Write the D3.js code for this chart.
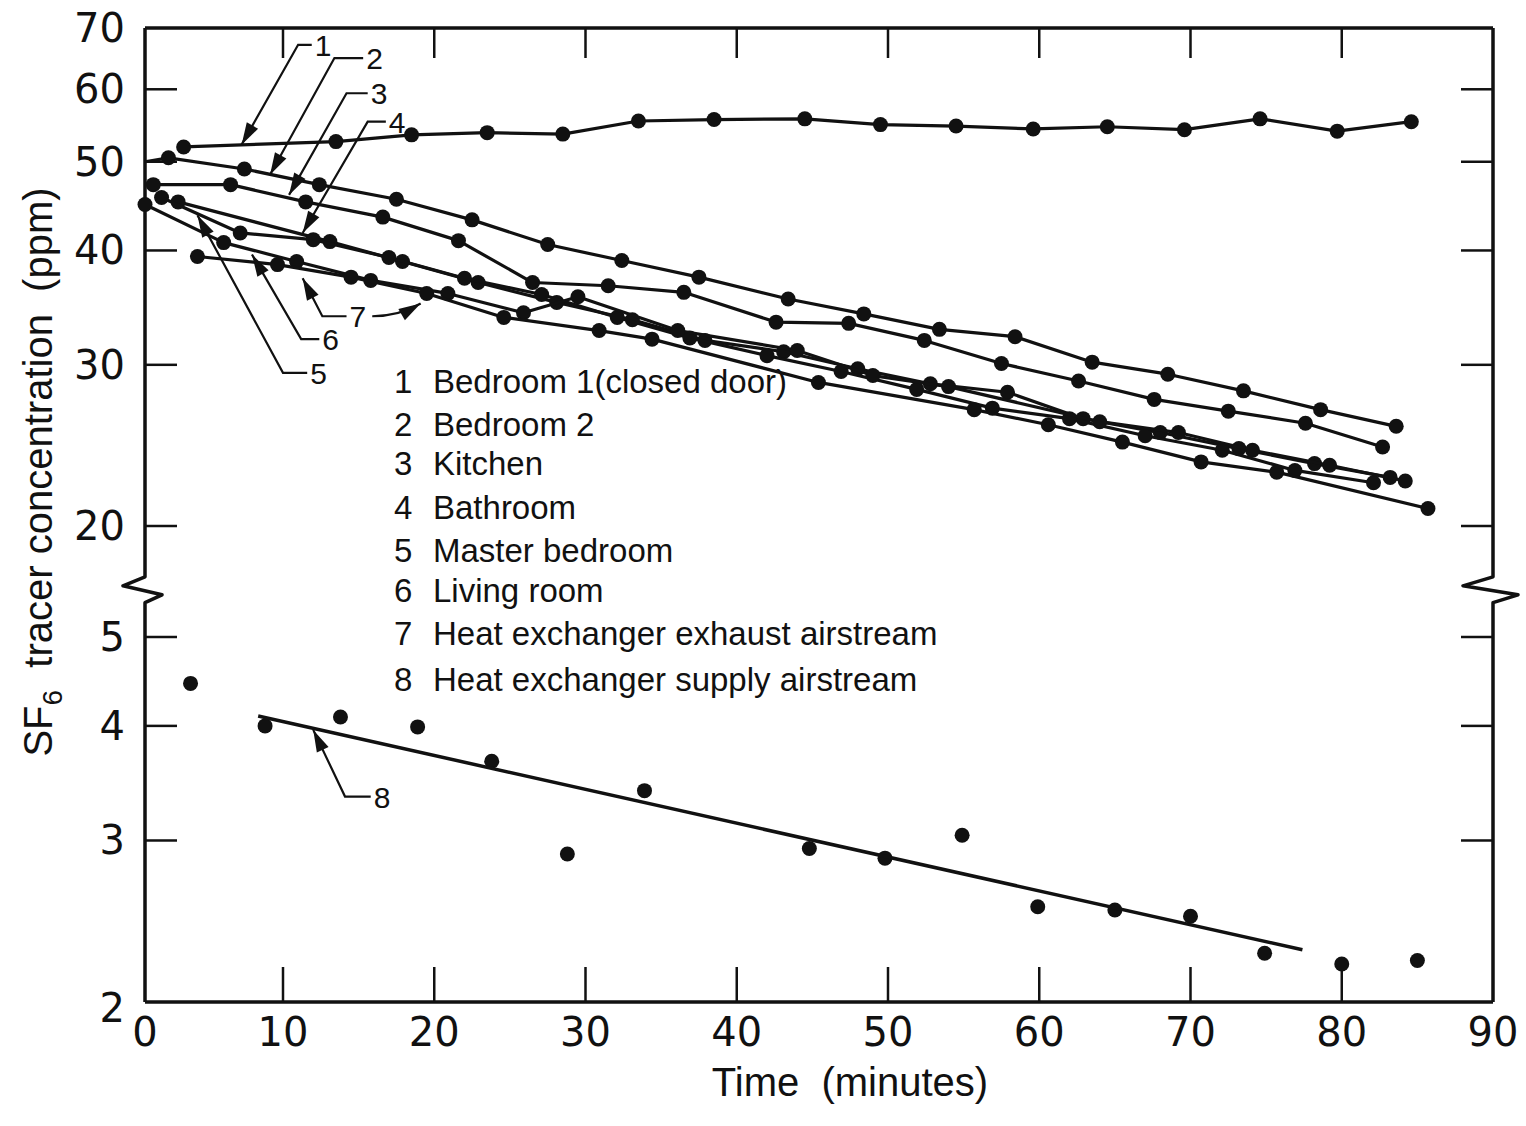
<!DOCTYPE html>
<html><head><meta charset="utf-8">
<script src="https://cdn.jsdelivr.net/npm/d3@7"></script>
<style>
body{margin:0;background:#fff}
svg{display:block}
text{fill:#111}
</style>
</head><body>
<svg id="c" width="1526" height="1126"></svg>
<script>
// ---------------- data ----------------
const xTicks = [0,10,20,30,40,50,60,70,80,90];
const yTicksUpper = [20,30,40,50,60,70];
const yTicksLower = [2,3,4,5];
const legendNumbers = ["1","2","3","4","5","6","7","8"];
const legendNames = ["Bedroom 1(closed door)","Bedroom 2","Kitchen","Bathroom","Master bedroom","Living room","Heat exchanger exhaust airstream","Heat exchanger supply airstream"];

const s1Time  = [2.8,13.5,18.5,23.5,28.5,33.5,38.5,44.5,49.5,54.5,59.6,64.5,69.6,74.6,79.7,84.6];
const s1Value = [51.9,52.6,53.5,53.8,53.6,55.4,55.6,55.7,54.9,54.7,54.3,54.6,54.2,55.7,54.0,55.3];

const s2Time  = [0,1.7,7.2,12.4,17.5,22.5,27.5,32.4,37.5,43.4,48.4,53.4,58.4,63.5,68.5,73.5,78.6,83.6];
const s2Value = [50.0,50.5,49.1,47.2,45.5,43.2,40.6,39.0,37.4,35.4,34.1,32.8,32.2,30.2,29.3,28.1,26.8,25.7];

const s3Time  = [0.6,6.2,11.5,16.6,21.6,26.5,31.5,36.5,42.6,47.4,52.4,57.5,62.6,67.6,72.5,77.6,82.7];
const s3Value = [47.2,47.2,45.2,43.5,41.0,36.9,36.6,36.0,33.4,33.3,31.9,30.1,28.8,27.5,26.7,25.9,24.4];

const s4Time  = [2.4,13.1,17.9,22.9,28.1,33.1,37.9,43.1,48.0,52.8,57.9,62.9,68.0,73.2,78.2,83.2];
const s4Value = [45.2,40.9,38.9,36.9,35.1,33.6,31.9,31.0,29.7,28.6,28.0,26.2,25.3,24.3,23.4,22.6];

const s5Time  = [1.2,6.9,12.0,17.0,22.0,27.1,32.1,36.9,42.0,46.9,51.9,56.9,62.0,67.0,72.1,76.9,82.1];
const s5Value = [45.7,41.8,41.1,39.3,37.3,35.8,33.8,32.1,30.7,29.5,28.2,26.9,26.2,25.1,24.2,23.0,22.3];

const s6Time  = [0,5.7,10.9,15.8,20.9,25.9,29.5,36.1,44.0,49.0,54.0,64.0,69.2,74.1,79.2,84.2];
const s6Value = [44.9,40.8,38.9,37.1,35.9,34.2,35.6,32.7,31.1,29.2,28.4,26.0,25.3,24.2,23.3,22.4];

const s7Time  = [3.8,9.6,14.5,19.5,24.6,30.9,34.4,45.4,55.7,60.6,65.5,70.7,75.7,85.7];
const s7Value = [39.4,38.6,37.4,35.9,33.8,32.7,32.0,28.7,26.8,25.8,24.7,23.5,22.9,20.9];

const s8Time  = [3.3,8.7,13.8,18.9,23.8,28.8,33.9,44.8,49.8,54.9,59.9,65.0,70.0,74.9,80.0,85.0];
const s8Value = [4.45,4.0,4.09,3.99,3.66,2.90,3.40,2.94,2.87,3.04,2.54,2.52,2.48,2.26,2.20,2.22];

const s8FitTime  = [8.2,77.4];
const s8FitValue = [4.10,2.28];

// axis break values (upper / lower panel)
const breakUpper = 17.6;
const breakLower = 5.45;

// ---------------- scales ----------------
const svg = d3.select("#c");
const x  = d3.scaleLinear().domain([0,10,90]).range([145,283,1493]);
const yU = d3.scaleLog().domain([20,70]).range([526,28]);
const yL = d3.scaleLog().domain([2,5]).range([1002,637]);

const upperSeries = [
  {t:s1Time,v:s1Value,skipFirstDot:false},
  {t:s2Time,v:s2Value,skipFirstDot:true},
  {t:s3Time,v:s3Value,skipFirstDot:false},
  {t:s4Time,v:s4Value,skipFirstDot:false},
  {t:s5Time,v:s5Value,skipFirstDot:false},
  {t:s6Time,v:s6Value,skipFirstDot:false},
  {t:s7Time,v:s7Value,skipFirstDot:false}
];

const ink = "#111";
const x0 = x(0), x90 = x(90);
const yTop = yU(70), yBot = yL(2);

// ---------------- frame ----------------
const g = svg.append("g");
function axisPath(ax, left){
  const ya = yU(breakUpper), yb = yL(breakLower);
  const out = left ? -22 : -30, inn = left ? 17 : 25;
  return `M${ax},${yTop} L${ax},${ya} L${ax+out},${ya+9} L${ax+inn},${ya+18} L${ax},${yb} L${ax},${yBot}`;
}
g.append("path").attr("d",axisPath(x0,true)).attr("fill","none").attr("stroke",ink).attr("stroke-width",3.5).attr("stroke-linejoin","round");
g.append("path").attr("d",axisPath(x90,false)).attr("fill","none").attr("stroke",ink).attr("stroke-width",3.5).attr("stroke-linejoin","round");
g.append("line").attr("x1",x0).attr("x2",x90).attr("y1",yTop).attr("y2",yTop).attr("stroke",ink).attr("stroke-width",3.5);
g.append("line").attr("x1",x0).attr("x2",x90).attr("y1",yBot).attr("y2",yBot).attr("stroke",ink).attr("stroke-width",3.5);

// x ticks (inside, top and bottom)
const innerX = xTicks.filter(d=>d>0 && d<90);
g.selectAll(".xtb").data(innerX).join("line")
  .attr("x1",d=>x(d)).attr("x2",d=>x(d)).attr("y1",yBot).attr("y2",yBot-35)
  .attr("stroke",ink).attr("stroke-width",2.5);
g.selectAll(".xtt").data(innerX).join("line")
  .attr("x1",d=>x(d)).attr("x2",d=>x(d)).attr("y1",yTop).attr("y2",yTop+30)
  .attr("stroke",ink).attr("stroke-width",2.5);

// y ticks (inside, left and right)
const yTickPos = yTicksUpper.filter(d=>d<70).map(d=>yU(d)).concat(yTicksLower.filter(d=>d>2).map(d=>yL(d)));
g.selectAll(".ytl").data(yTickPos).join("line")
  .attr("x1",x0).attr("x2",x0+32).attr("y1",d=>d).attr("y2",d=>d)
  .attr("stroke",ink).attr("stroke-width",2.5);
g.selectAll(".ytr").data(yTickPos).join("line")
  .attr("x1",x90-32).attr("x2",x90).attr("y1",d=>d).attr("y2",d=>d)
  .attr("stroke",ink).attr("stroke-width",2.5);

// tick labels
const tickFont = "'DejaVu Sans', sans-serif";
g.selectAll(".xl").data(xTicks).join("text")
  .attr("x",d=>x(d)).attr("y",yBot+44).attr("text-anchor","middle")
  .attr("font-family",tickFont).attr("font-size",40).text(d=>d);
const yLab = yTicksUpper.map(d=>({v:d,y:yU(d)})).concat(yTicksLower.map(d=>({v:d,y:yL(d)})));
g.selectAll(".yl").data(yLab).join("text")
  .attr("x",x0-20).attr("y",d=>d.y+ (d.v===2?20:14)).attr("text-anchor","end")
  .attr("font-family",tickFont).attr("font-size",40).text(d=>d.v);

// axis titles
const txtFont = "'Liberation Sans', Arial, sans-serif";
svg.append("text").attr("x",850).attr("y",1096).attr("text-anchor","middle")
  .attr("font-family",txtFont).attr("font-size",40).attr("xml:space","preserve")
  .text("Time  (minutes)");
const yt = svg.append("text").attr("transform","translate(52,472) rotate(-90)")
  .attr("text-anchor","middle").attr("font-family",txtFont).attr("font-size",40);
yt.append("tspan").text("SF");
yt.append("tspan").attr("font-size",28).attr("dy",10).text("6");
yt.append("tspan").attr("dy",-10).text("\u00a0\u00a0tracer concentration\u00a0\u00a0(ppm)");

// ---------------- series ----------------
const lineU = d3.line().x(d=>x(d[0])).y(d=>yU(d[1]));
const lineL = d3.line().x(d=>x(d[0])).y(d=>yL(d[1]));
const R = 7.5;

upperSeries.forEach(s=>{
  const pts = s.t.map((t,i)=>[t,s.v[i]]);
  svg.append("path").attr("d",lineU(pts)).attr("fill","none").attr("stroke",ink)
    .attr("stroke-width",3.2).attr("stroke-linejoin","round");
  svg.append("g").selectAll("circle").data(s.skipFirstDot?pts.slice(1):pts).join("circle")
    .attr("cx",d=>x(d[0])).attr("cy",d=>yU(d[1])).attr("r",R).attr("fill",ink);
});

const s8pts = s8Time.map((t,i)=>[t,s8Value[i]]);
svg.append("g").selectAll("circle").data(s8pts).join("circle")
  .attr("cx",d=>x(d[0])).attr("cy",d=>yL(d[1])).attr("r",R).attr("fill",ink);
svg.append("path").attr("d",lineL(s8FitTime.map((t,i)=>[t,s8FitValue[i]])))
  .attr("fill","none").attr("stroke",ink).attr("stroke-width",3.5);

// ---------------- leader labels ----------------
// tip/elbow in data coordinates; end = end of the short horizontal stroke
const leaders = [
  {lab:"1",sc:"u",tipT:7.0, tipV:52.2,elT:11.0,elV:67.1,endT:11.9},
  {lab:"2",sc:"u",tipT:9.06,tipV:48.4,elT:13.4,elV:64.9,endT:15.3},
  {lab:"3",sc:"u",tipT:10.4,tipV:46.0,elT:14.2,elV:59.4,endT:15.6},
  {lab:"4",sc:"u",tipT:11.3,tipV:41.8,elT:15.6,elV:55.3,endT:16.8},
  {lab:"5",sc:"u",tipT:3.8, tipV:43.7,elT:10.0,elV:29.4,endT:11.6},
  {lab:"6",sc:"u",tipT:7.75,tipV:39.6,elT:11.2,elV:32.0,endT:12.4},
  {lab:"7",sc:"u",tipT:11.3,tipV:37.3,elT:12.6,elV:33.9,endT:14.2},
  {lab:"8",sc:"l",tipT:12.0,tipV:3.96,elT:14.1,elV:3.35,endT:15.8}
];
const lead7b = {fromT:15.9,fromV:33.9,tipT:19.1,tipV:35.0};

function arrowHead(fx,fy,tx,ty){
  const dx=tx-fx, dy=ty-fy, L=Math.hypot(dx,dy), ux=dx/L, uy=dy/L;
  const len=22, w=6.5;
  const bx=tx-ux*len, by=ty-uy*len;
  return `M${tx},${ty} L${bx-uy*w},${by+ux*w} L${bx+uy*w},${by-ux*w} Z`;
}
const ann = svg.append("g");
leaders.forEach(a=>{
  const ys = a.sc==="u"?yU:yL;
  const tx=x(a.tipT), ty=ys(a.tipV), ex=x(a.elT), ey=ys(a.elV), nx=x(a.endT);
  ann.append("path").attr("d",`M${nx},${ey} L${ex},${ey} L${tx},${ty}`)
    .attr("fill","none").attr("stroke",ink).attr("stroke-width",2.2);
  ann.append("path").attr("d",arrowHead(ex,ey,tx,ty)).attr("fill",ink);
  ann.append("text").attr("x",nx+3).attr("y",ey+11).attr("font-family",txtFont)
    .attr("font-size",30).text(a.lab);
});
{
  const fx=x(lead7b.fromT), fy=yU(lead7b.fromV), tx=x(lead7b.tipT), ty=yU(lead7b.tipV);
  const cx=fx+(tx-fx)*0.55, cy=fy;
  ann.append("path").attr("d",`M${fx},${fy} Q${cx},${cy} ${tx},${ty}`)
    .attr("fill","none").attr("stroke",ink).attr("stroke-width",2.2);
  ann.append("path").attr("d",arrowHead(cx,cy,tx,ty)).attr("fill",ink);
}

// ---------------- legend ----------------
const legY = [381,424,463,507,550,590,633,679];
const leg = svg.append("g");
legendNames.forEach((n,i)=>{
  leg.append("text").attr("x",394).attr("y",legY[i]+12).attr("font-family",txtFont)
    .attr("font-size",33).text(legendNumbers[i]);
  leg.append("text").attr("x",433).attr("y",legY[i]+12).attr("font-family",txtFont)
    .attr("font-size",33).text(n);
});
</script>
</body></html>
